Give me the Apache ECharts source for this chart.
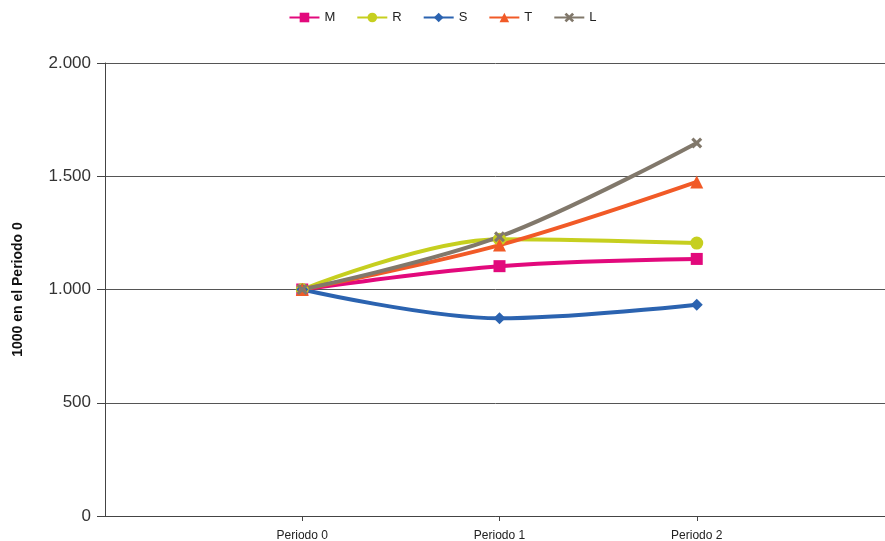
<!DOCTYPE html>
<html>
<head>
    <meta charset="utf-8">
    <script src="https://cdn.jsdelivr.net/npm/echarts@6/dist/echarts.min.js"></script>
    <style>
        html, body { margin: 0; padding: 0; background: #fff; }
        #chart { width: 885px; height: 541px; }
    </style>
</head>
<body>
<div id="chart"></div>
<script type="text/javascript">
    // categorias (con huecos a los lados, como en el original)
    var categories = ['', 'Periodo 0', 'Periodo 1', 'Periodo 2', ''];
    var yTicks = [0, 500, 1000, 1500, 2000];

    // valores por serie
    var serieM = [null, 1000, 1103, 1135, null];
    var serieR = [null, 1000, 1222, 1205, null];
    var serieS = [null, 1000, 873, 933, null];
    var serieT = [null, 1000, 1196, 1475, null];
    var serieL = [null, 1000, 1233, 1647, null];

    var names = ['M', 'R', 'S', 'T', 'L'];
    var colors = ['#e2097c', '#c6cf1f', '#2b63b0', '#f15a27', '#81786b'];
    var symbols = ['rect', 'circle', 'diamond', 'triangle',
        'path://M0,2 L2,0 L5,3 L8,0 L10,2 L7,5 L10,8 L8,10 L5,7 L2,10 L0,8 L3,5 Z'];
    var sizes = [12, 13, 12, 13, 11];
    var datos = [serieM, serieR, serieS, serieT, serieL];

    var chart = echarts.init(document.getElementById('chart'));

    var series = [];
    for (var i = 0; i < names.length; i++) {
        series.push({
            name: names[i],
            type: 'line',
            data: datos[i],
            smooth: 0.35,
            symbol: symbols[i],
            symbolSize: sizes[i],
            showSymbol: true,
            connectNulls: false,
            lineStyle: { width: 4, color: colors[i] },
            itemStyle: { color: colors[i] },
            emphasis: { disabled: true }
        });
    }

    var option = {
        animation: false,
        color: colors,
        textStyle: { fontFamily: 'Liberation Sans, Arial, sans-serif' },
        legend: {
            top: 6,
            left: 'center',
            itemWidth: 30,
            itemHeight: 12,
            itemGap: 21,
            textStyle: { fontSize: 13, color: '#222' },
            data: names
        },
        grid: {
            left: 105,
            right: -9,
            top: 63,
            bottom: 25,
            outerBoundsMode: 'none',
            containLabel: false
        },
        xAxis: {
            type: 'category',
            boundaryGap: false,
            data: categories,
            axisLine: { lineStyle: { color: '#444', width: 1 } },
            axisTick: {
                length: 5,
                lineStyle: { color: '#444' },
                interval: function (idx, val) { return val !== ''; }
            },
            axisLabel: {
                interval: 0,
                color: '#222',
                fontSize: 12,
                margin: 14
            },
            splitLine: { show: false }
        },
        yAxis: {
            type: 'value',
            min: yTicks[0],
            max: yTicks[yTicks.length - 1],
            interval: 500,
            name: '1000 en el Periodo 0',
            nameLocation: 'middle',
            nameGap: 80,
            nameTextStyle: { fontSize: 14, fontWeight: 'bold', color: '#111' },
            axisLine: { show: true, lineStyle: { color: '#444', width: 1 } },
            axisTick: { show: true, length: 8, lineStyle: { color: '#444' } },
            axisLabel: {
                color: '#333',
                fontSize: 17,
                margin: 14,
                formatter: function (v) {
                    return String(v).replace(/\B(?=(\d{3})+(?!\d))/g, '.');
                }
            },
            splitLine: { show: true, lineStyle: { color: '#555', width: 1 } }
        },
        series: series
    };

    chart.setOption(option);
</script>
</body>
</html>
